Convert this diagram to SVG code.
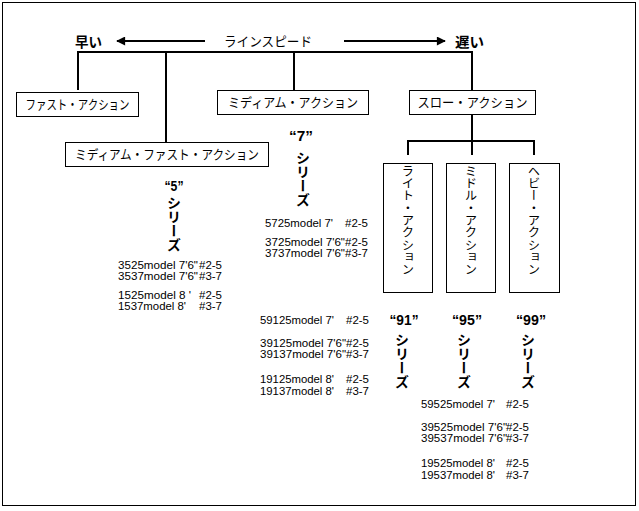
<svg xmlns="http://www.w3.org/2000/svg" width="639" height="511" viewBox="0 0 639 511">
<style>
.jp{font-family:"Noto Sans CJK JP","Liberation Sans",sans-serif;fill:#000}
.lbl{font-size:13px}
.hd{font-size:14px;font-weight:bold}
.vt{writing-mode:vertical-rl;font-size:12.3px}
.vs{writing-mode:vertical-rl;font-size:14px;font-weight:bold}
.q{font-family:"Liberation Sans",sans-serif;font-size:15px;font-weight:bold;text-anchor:middle}
.m{font-family:"Liberation Sans",sans-serif;font-size:11.5px;fill:#000}
.box{fill:#fff;stroke:#000;stroke-width:1}
.cn{stroke:#000;stroke-width:2;fill:none}
</style>
<defs>
<marker id="ah" viewBox="0 0 10 10" refX="9" refY="5" markerWidth="5" markerHeight="4.5" orient="auto" markerUnits="strokeWidth">
<path d="M0,0 L10,5 L0,10 z" fill="#000"/>
</marker>
</defs>
<rect x="2.5" y="2.5" width="633" height="503" fill="#fff" stroke="#000" stroke-width="1"/>

<g id="connectors">
<line class="cn" x1="205" y1="41" x2="117" y2="41" marker-end="url(#ah)"/>
<line class="cn" x1="344" y1="41" x2="445" y2="41" marker-end="url(#ah)"/>
<path class="cn" d="M78,90 V52 H472 V90"/>
<line class="cn" x1="166" y1="52" x2="166" y2="142"/>
<line class="cn" x1="294" y1="52" x2="294" y2="90"/>
<line class="cn" x1="472" y1="115" x2="472" y2="141"/>
<path class="cn" d="M408,155 V141 H534 V155"/>
<line class="cn" x1="472" y1="141" x2="472" y2="155"/>
</g>

<g id="speed">
<text class="jp hd" x="75" y="47" textLength="27" lengthAdjust="spacingAndGlyphs">早い</text>
<text class="jp lbl" x="224" y="46" textLength="88" lengthAdjust="spacingAndGlyphs">ラインスピード</text>
<text class="jp hd" x="455" y="47" textLength="29" lengthAdjust="spacingAndGlyphs">遅い</text>
</g>

<g id="fast">
<rect class="box" x="16.5" y="92.5" width="122" height="24"/>
<text class="jp lbl" x="77.5" y="109" text-anchor="middle" textLength="104" lengthAdjust="spacingAndGlyphs">ファスト・アクション</text>
</g>
<g id="medium-fast">
<rect class="box" x="65.5" y="142.5" width="203" height="24"/>
<text class="jp lbl" x="167" y="159" text-anchor="middle" textLength="184" lengthAdjust="spacingAndGlyphs">ミディアム・ファスト・アクション</text>
</g>
<g id="medium">
<rect class="box" x="217.5" y="90.5" width="151" height="24"/>
<text class="jp lbl" x="293" y="107" text-anchor="middle" textLength="130" lengthAdjust="spacingAndGlyphs">ミディアム・アクション</text>
</g>
<g id="slow">
<rect class="box" x="409.5" y="90.5" width="126" height="24"/>
<text class="jp lbl" x="472.5" y="107" text-anchor="middle" textLength="110" lengthAdjust="spacingAndGlyphs">スロー・アクション</text>
</g>
<g id="light">
<rect class="box" x="383.5" y="163.5" width="49" height="129"/>
<text class="jp vt" x="408" y="165">ライト・アクション</text>
</g>
<g id="middle">
<rect class="box" x="446.5" y="163.5" width="49" height="129"/>
<text class="jp vt" x="471" y="165">ミドル・アクション</text>
</g>
<g id="heavy">
<rect class="box" x="509.5" y="163.5" width="50" height="129"/>
<text class="jp vt" x="534" y="165">ヘビー・アクション</text>
</g>

<g id="series-5">
<text class="q" x="174" y="191" textLength="19" lengthAdjust="spacingAndGlyphs">“5”</text>
<text class="jp vs" x="174" y="196">シリーズ</text>
<text class="m" x="118" y="269" textLength="80" lengthAdjust="spacingAndGlyphs">3525model 7'6"</text><text class="m" x="199" y="269" textLength="23" lengthAdjust="spacingAndGlyphs">#2-5</text>
<text class="m" x="118" y="280" textLength="80" lengthAdjust="spacingAndGlyphs">3537model 7'6"</text><text class="m" x="199" y="280" textLength="23" lengthAdjust="spacingAndGlyphs">#3-7</text>
<text class="m" x="118" y="299" textLength="73" lengthAdjust="spacingAndGlyphs">1525model 8 '</text><text class="m" x="199" y="299" textLength="23" lengthAdjust="spacingAndGlyphs">#2-5</text>
<text class="m" x="118" y="310" textLength="68" lengthAdjust="spacingAndGlyphs">1537model 8'</text><text class="m" x="199" y="310" textLength="23" lengthAdjust="spacingAndGlyphs">#3-7</text>
</g>

<g id="series-7">
<text class="q" x="301" y="141" textLength="24" lengthAdjust="spacingAndGlyphs">“7”</text>
<text class="jp vs" x="303" y="151">シリーズ</text>
<text class="m" x="265" y="227" textLength="68" lengthAdjust="spacingAndGlyphs">5725model 7'</text><text class="m" x="345" y="227" textLength="23" lengthAdjust="spacingAndGlyphs">#2-5</text>
<text class="m" x="265" y="246" textLength="80" lengthAdjust="spacingAndGlyphs">3725model 7'6"</text><text class="m" x="345" y="246" textLength="23" lengthAdjust="spacingAndGlyphs">#2-5</text>
<text class="m" x="265" y="257" textLength="80" lengthAdjust="spacingAndGlyphs">3737model 7'6"</text><text class="m" x="345" y="257" textLength="23" lengthAdjust="spacingAndGlyphs">#3-7</text>
</g>

<g id="series-91">
<text class="q" x="404" y="325" textLength="29" lengthAdjust="spacingAndGlyphs">“91”</text>
<text class="jp vs" x="402" y="333">シリーズ</text>
<text class="m" x="260" y="324" textLength="74" lengthAdjust="spacingAndGlyphs">59125model 7'</text><text class="m" x="346" y="324" textLength="23" lengthAdjust="spacingAndGlyphs">#2-5</text>
<text class="m" x="260" y="347" textLength="86" lengthAdjust="spacingAndGlyphs">39125model 7'6"</text><text class="m" x="346" y="347" textLength="23" lengthAdjust="spacingAndGlyphs">#2-5</text>
<text class="m" x="260" y="358" textLength="86" lengthAdjust="spacingAndGlyphs">39137model 7'6"</text><text class="m" x="346" y="358" textLength="23" lengthAdjust="spacingAndGlyphs">#3-7</text>
<text class="m" x="260" y="383" textLength="74" lengthAdjust="spacingAndGlyphs">19125model 8'</text><text class="m" x="346" y="383" textLength="23" lengthAdjust="spacingAndGlyphs">#2-5</text>
<text class="m" x="260" y="395" textLength="74" lengthAdjust="spacingAndGlyphs">19137model 8'</text><text class="m" x="346" y="395" textLength="23" lengthAdjust="spacingAndGlyphs">#3-7</text>
</g>

<g id="series-95">
<text class="q" x="467" y="325" textLength="30" lengthAdjust="spacingAndGlyphs">“95”</text>
<text class="jp vs" x="464" y="333">シリーズ</text>
</g>

<g id="series-99">
<text class="q" x="531" y="325" textLength="30" lengthAdjust="spacingAndGlyphs">“99”</text>
<text class="jp vs" x="528" y="333">シリーズ</text>
<text class="m" x="421" y="408" textLength="74" lengthAdjust="spacingAndGlyphs">59525model 7'</text><text class="m" x="506" y="408" textLength="23" lengthAdjust="spacingAndGlyphs">#2-5</text>
<text class="m" x="421" y="431" textLength="86" lengthAdjust="spacingAndGlyphs">39525model 7'6"</text><text class="m" x="506" y="431" textLength="23" lengthAdjust="spacingAndGlyphs">#2-5</text>
<text class="m" x="421" y="442" textLength="86" lengthAdjust="spacingAndGlyphs">39537model 7'6"</text><text class="m" x="506" y="442" textLength="23" lengthAdjust="spacingAndGlyphs">#3-7</text>
<text class="m" x="421" y="467" textLength="74" lengthAdjust="spacingAndGlyphs">19525model 8'</text><text class="m" x="506" y="467" textLength="23" lengthAdjust="spacingAndGlyphs">#2-5</text>
<text class="m" x="421" y="479" textLength="74" lengthAdjust="spacingAndGlyphs">19537model 8'</text><text class="m" x="506" y="479" textLength="23" lengthAdjust="spacingAndGlyphs">#3-7</text>
</g>
</svg>
